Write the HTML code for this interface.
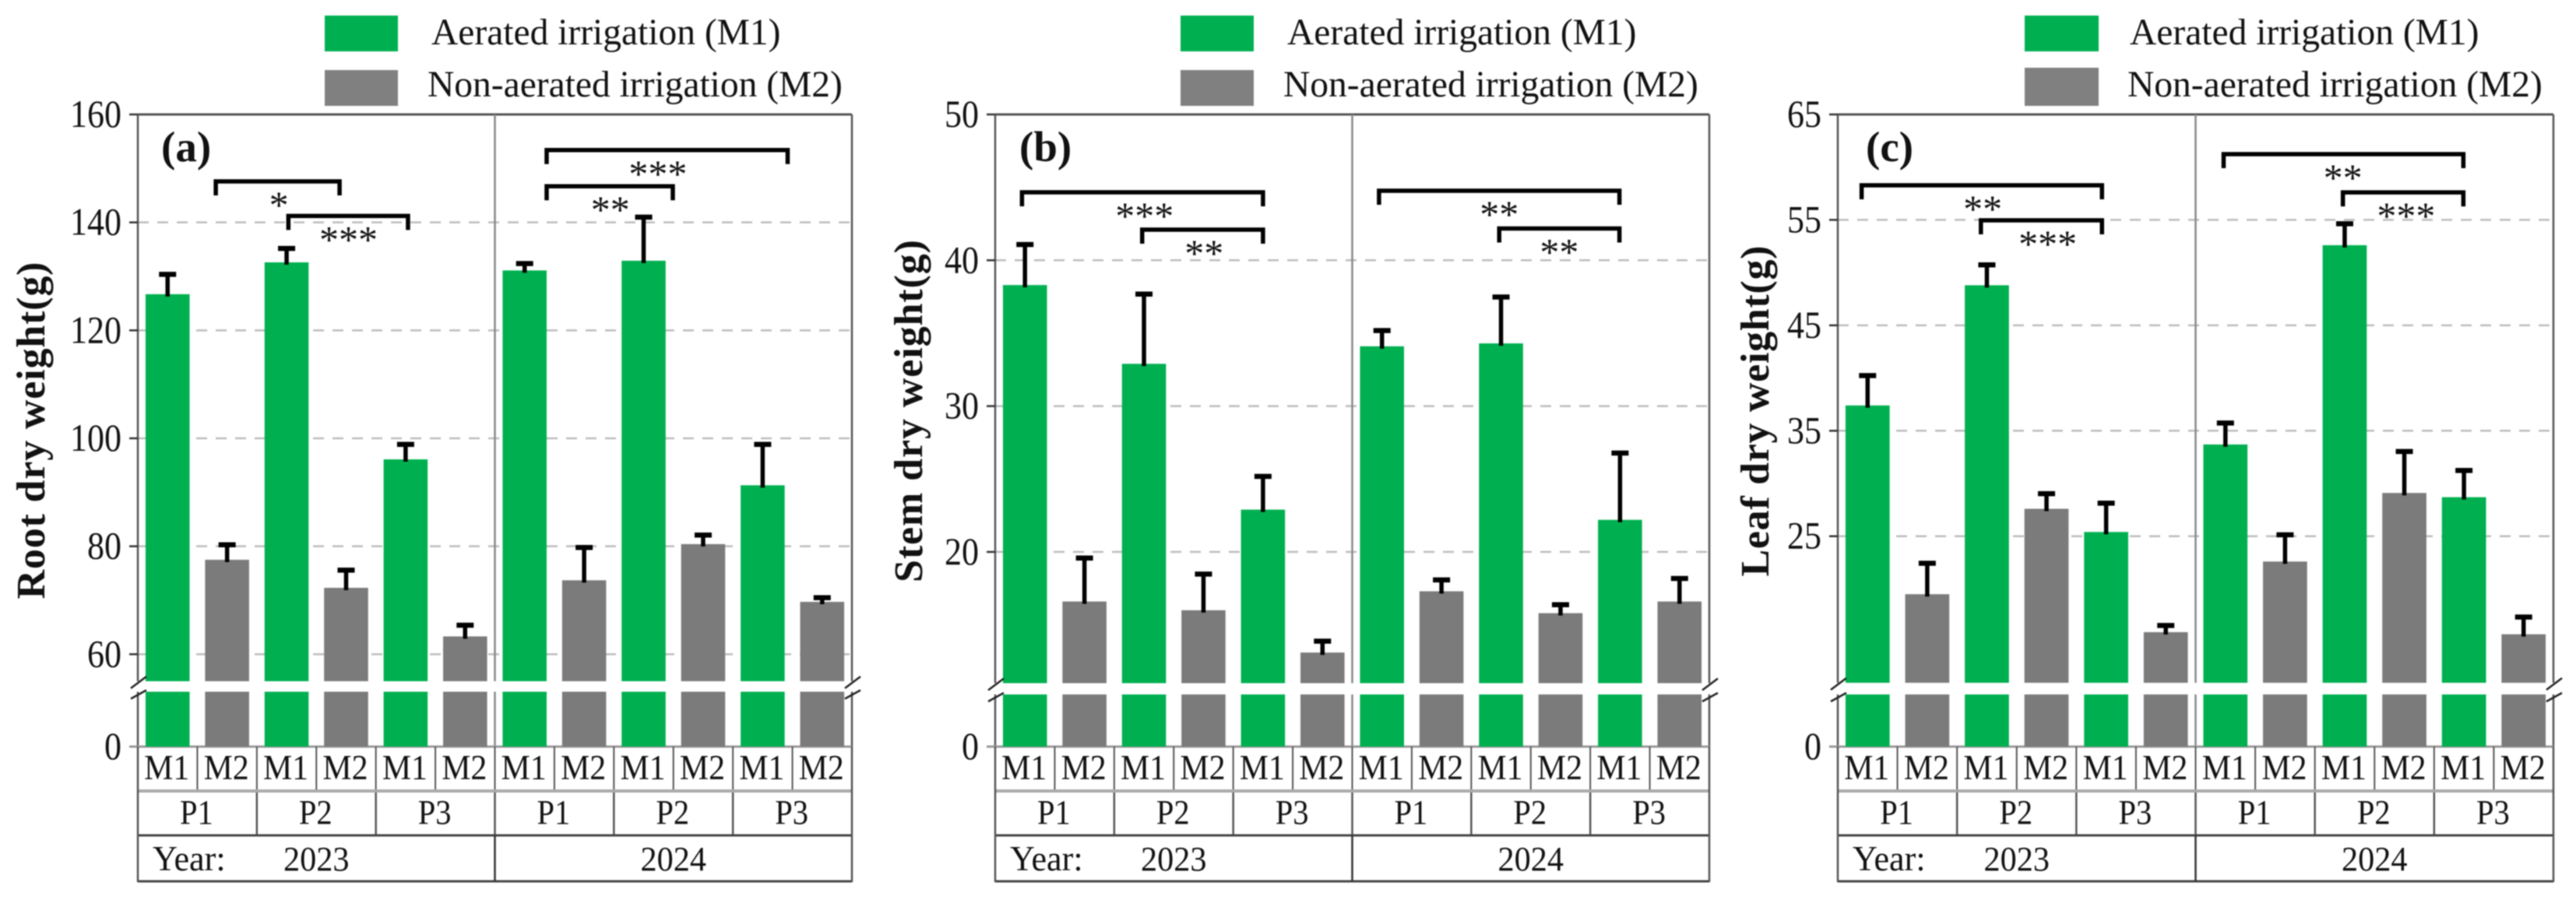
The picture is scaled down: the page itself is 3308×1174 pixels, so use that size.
<!DOCTYPE html>
<html lang="en">
<head>
<meta charset="utf-8">
<title>Root, stem and leaf dry weight</title>
<style>
html,body{margin:0;padding:0;background:#fff;width:3308px;height:1174px;overflow:hidden}
svg{display:block;filter:blur(0.7px)}
text{font-family:"Liberation Serif","Times New Roman",serif;fill:#111}
</style>
</head>
<body>
<svg id="chart" xmlns="http://www.w3.org/2000/svg" width="3308" height="1174" viewBox="0 0 3308 1174">
  <rect x="0" y="0" width="3308" height="1174" fill="#fff"/>
  <g>
    <rect x="417" y="20" width="94" height="46" fill="#00B050"/>
    <text x="554" y="57" font-size="47.5">Aerated irrigation (M1)</text>
    <rect x="417" y="90" width="94" height="46" fill="#808080"/>
    <text x="549" y="124" font-size="47.5">Non-aerated irrigation (M2)</text>
  </g>
  <g>
    <rect x="1516" y="20" width="94" height="46" fill="#00B050"/>
    <text x="1653" y="57" font-size="47.5">Aerated irrigation (M1)</text>
    <rect x="1516" y="90" width="94" height="46" fill="#808080"/>
    <text x="1648" y="124" font-size="47.5">Non-aerated irrigation (M2)</text>
  </g>
  <g>
    <rect x="2600" y="20" width="95" height="46" fill="#00B050"/>
    <text x="2735" y="57" font-size="47.5">Aerated irrigation (M1)</text>
    <rect x="2600" y="87" width="95" height="49" fill="#808080"/>
    <text x="2732" y="124" font-size="47.5">Non-aerated irrigation (M2)</text>
  </g>
</svg>
<script>
// Categories
var treatments = ['M1','M2','M1','M2','M1','M2','M1','M2','M1','M2','M1','M2'];
var periods = ['P1','P2','P3','P1','P2','P3'];
var years = ['2023','2024'];

// Root dry weight (g)
var rootMeans = [126.7,77.5,132.6,72.3,96.1,63.3,131.1,73.7,132.9,80.4,91.3,69.7];
var rootErrors = [4.0,3.1,2.9,3.6,3.1,2.4,1.6,6.4,8.4,2.0,7.9,1.1];
var rootTicks = [60,80,100,120,140,160];

// Stem dry weight (g)
var stemMeans = [38.3,16.6,32.9,16.0,22.9,13.1,34.1,17.3,34.3,15.8,22.2,16.6];
var stemErrors = [2.9,3.1,4.9,2.6,2.4,0.9,1.2,0.9,3.3,0.7,4.7,1.7];
var stemTicks = [20,30,40,50];

// Leaf dry weight (g)
var leafMeans = [37.4,19.5,48.8,27.6,25.4,15.9,33.7,22.6,52.6,29.1,28.7,15.7];
var leafErrors = [3.0,3.1,2.1,1.6,2.9,0.8,2.2,2.7,2.2,4.1,2.7,1.8];
var leafTicks = [25,35,45,55,65];

// Significance brackets: start and end along the category axis, level on the y axis, stars
var rootBracketFrom = [1.31,2.53,6.87,6.87];
var rootBracketTo = [3.39,4.54,10.92,8.99];
var rootBracketLevel = [147.6,141.2,153.4,146.7];
var rootBracketStarAt = [2.37,3.54,8.74,7.94];
var rootBracketStars = ['*','***','***','**'];

var stemBracketFrom = [0.45,2.47,6.45,8.47];
var stemBracketTo = [4.50,4.50,10.49,10.49];
var stemBracketLevel = [44.66,42.1,44.77,42.18];
var stemBracketStarAt = [2.51,3.51,8.47,9.48];
var stemBracketStars = ['***','**','**','**'];

var leafBracketFrom = [0.40,2.40,6.47,8.47];
var leafBracketTo = [4.43,4.43,10.49,10.49];
var leafBracketLevel = [58.28,54.96,61.23,57.61];
var leafBracketStarAt = [2.43,3.52,8.47,9.53];
var leafBracketStars = ['**','***','**','***'];

var panels = [
  {key:'root',label:'(a)',title:'Root dry weight(g)',means:rootMeans,errors:rootErrors,ticks:rootTicks,
   from:rootBracketFrom,to:rootBracketTo,level:rootBracketLevel,starAt:rootBracketStarAt,stars:rootBracketStars,
   left:177,right:1094,breakValue:55,maxValue:160,upperBottom:875,lowerTop:888.5,
   titleX:57,titleMid:553,titleLen:433,labelX:207},
  {key:'stem',label:'(b)',title:'Stem dry weight(g)',means:stemMeans,errors:stemErrors,ticks:stemTicks,
   from:stemBracketFrom,to:stemBracketTo,level:stemBracketLevel,starAt:stemBracketStarAt,stars:stemBracketStars,
   left:1278,right:2195,breakValue:11,maxValue:50,upperBottom:877.5,lowerTop:892,
   titleX:1184,titleMid:528,titleLen:440,labelX:1309},
  {key:'leaf',label:'(c)',title:'Leaf dry weight(g)',means:leafMeans,errors:leafErrors,ticks:leafTicks,
   from:leafBracketFrom,to:leafBracketTo,level:leafBracketLevel,starAt:leafBracketStarAt,stars:leafBracketStars,
   left:2360,right:3279,breakValue:11.1,maxValue:65,upperBottom:877,lowerTop:892,
   titleX:2271,titleMid:528,titleLen:425,labelX:2396}
];

var TOP = 147, ZERO = 959, ROW1 = 1016, ROW2 = 1073, ROW3 = 1132;
var GREEN = '#00B050', GREY = '#7B7B7B', FRAME = '#555';
var SVGNS = 'http://www.w3.org/2000/svg';
var root = document.getElementById('chart');

function make(tag, attrs, parent) {
  var el = document.createElementNS(SVGNS, tag);
  for (var k in attrs) el.setAttribute(k, attrs[k]);
  parent.appendChild(el);
  return el;
}
function lineAttrs(x1, y1, x2, y2, color, width) {
  return {x1:x1, y1:y1, x2:x2, y2:y2, stroke:color, 'stroke-width':width};
}
function squeezedText(str, x, y, size, sx, anchor, parent) {
  var el = make('text', {transform:'translate(' + x + ',' + y + ') scale(' + sx + ',1)', 'font-size':size, 'text-anchor':anchor}, parent);
  el.textContent = str;
  return el;
}

function drawPanel(p) {
  var g = make('g', {}, root);
  
  

  var band = (p.right - p.left) / treatments.length;
  var mid = p.left + band * 6;
  function xPos(u) { return p.left + band * u; }
  function yPos(v) {
    return p.upperBottom - (v - p.breakValue) * (p.upperBottom - TOP) / (p.maxValue - p.breakValue);
  }

  // gridlines
  p.ticks.forEach(function (t) {
    if (t === p.maxValue) return;
    var grid = make('line', lineAttrs(p.left, yPos(t), p.right, yPos(t), '#bdbdbd', 2.5), g);
    grid.setAttribute('stroke-dasharray', '14 11');
    
    
  });

  // frame
  var frameSegments = [
    [p.left, TOP, p.right, TOP, 3],
    [p.left, TOP, p.left, p.upperBottom, 2.5],
    [p.left, p.lowerTop, p.left, ZERO, 2.5],
    [p.right, TOP, p.right, p.upperBottom, 2.5],
    [p.right, p.lowerTop, p.right, ZERO, 2.5]
  ];
  frameSegments.forEach(function (s) {
    var frame = make('line', lineAttrs(s[0], s[1], s[2], s[3], FRAME, s[4]), g);
    
    
  });
  [[TOP, p.upperBottom], [p.lowerTop, ZERO]].forEach(function (s) {
    var divider = make('line', lineAttrs(mid, s[0], mid, s[1], '#888', 2.5), g);
    
    
  });

  // ticks
  p.ticks.forEach(function (t) {
    var mark = make('line', lineAttrs(p.left - 11, yPos(t), p.left, yPos(t), '#333', 2.5), g);
    
    
    var label = squeezedText(String(t), p.left - 21, yPos(t) + 16, 50, 0.88, 'end', g);
    
    
  });
  var zeroMark = make('line', lineAttrs(p.left - 11, ZERO, p.right, ZERO, '#999', 3), g);
  
  
  var zeroLabel = squeezedText('0', p.left - 21, ZERO + 16, 50, 0.88, 'end', g);
  
  

  // bars and error bars
  var barWidth = band * 0.74;
  p.means.forEach(function (m, i) {
    var cx = xPos(i + 0.5);
    var fill = treatments[i] === 'M1' ? GREEN : GREY;
    var upper = make('rect', {x:cx - barWidth / 2, y:yPos(m), width:barWidth, height:p.upperBottom - yPos(m), fill:fill}, g);
    
    
    var lower = make('rect', {x:cx - barWidth / 2, y:p.lowerTop, width:barWidth, height:ZERO - p.lowerTop, fill:fill}, g);
    
    
    var topY = yPos(m + p.errors[i]);
    var stem = make('line', lineAttrs(cx, topY, cx, yPos(m) + 3, '#000', 5.5), g);
    
    
    var cap = make('rect', {x:cx - 11, y:topY - 1, width:22, height:6.5, fill:'#000'}, g);
    
    
  });

  // axis-break marks
  [p.left, p.right].forEach(function (ax) {
    var a = make('line', lineAttrs(ax - 9, p.upperBottom + 9, ax + 11, p.upperBottom - 6, '#222', 2.5), g);
    
    
    var b = make('line', lineAttrs(ax - 9, p.lowerTop + 9, ax + 11, p.lowerTop - 2, '#222', 2.5), g);
    
    
  });

  // significance brackets
  p.from.forEach(function (f, i) {
    var x1 = xPos(f), x2 = xPos(p.to[i]), y = yPos(p.level[i]);
    var br = make('path', {d:'M' + x1 + ' ' + (y + 18) + 'V' + y + 'H' + x2 + 'V' + (y + 18), fill:'none', stroke:'#000', 'stroke-width':5.5}, g);
    
    
    var star = make('text', {x:xPos(p.starAt[i]), y:y + 47, 'font-size':50, 'text-anchor':'middle'}, g);
    star.textContent = p.stars[i];
    
    
  });

  // panel letter
  var letter = make('text', {x:p.labelX, y:207, 'font-size':55, 'font-weight':'bold'}, g);
  letter.textContent = p.label;
  
  

  // y-axis title
  var title = make('text', {transform:'translate(' + p.titleX + ',' + p.titleMid + ') rotate(-90)', 'font-size':52, 'font-weight':'bold', 'text-anchor':'middle', textLength:p.titleLen, lengthAdjust:'spacing'}, g);
  title.textContent = p.title;
  
  

  // category table
  treatments.forEach(function (t, i) {
    var label = squeezedText(t, xPos(i + 0.5) - 1, 1001, 45, 0.93, 'middle', g);
    
    
    if (i > 0) {
      var sep = make('line', lineAttrs(xPos(i), ZERO, xPos(i), ROW1, '#555', 2), g);
      
      
    }
  });
  periods.forEach(function (t, i) {
    var label = squeezedText(t, xPos(i * 2 + 1) - 1, 1058, 44, 0.92, 'middle', g);
    
    
    if (i > 0) {
      var sep = make('line', lineAttrs(xPos(i * 2), ROW1, xPos(i * 2), ROW2, '#555', 2.5), g);
      
      
    }
  });
  years.forEach(function (t, i) {
    var label = squeezedText(t, xPos(i * 6 + 3), 1118, 44, 0.96, 'middle', g);
    
    
  });
  var yearHead = squeezedText('Year:', p.left + 19, 1118, 46, 0.96, 'start', g);
  
  

  var rule1 = make('line', lineAttrs(p.left, ROW1, p.right, ROW1, '#aaa', 4), g);
  
  
  var rule2 = make('line', lineAttrs(p.left, ROW2, p.right, ROW2, '#444', 3), g);
  
  
  var rule3 = make('line', lineAttrs(p.left, ROW3, p.right, ROW3, '#444', 3), g);
  
  
  var sideL = make('line', lineAttrs(p.left, ZERO, p.left, ROW3 + 1, '#555', 2.5), g);
  
  
  var sideR = make('line', lineAttrs(p.right, ZERO, p.right, ROW3 + 1, '#555', 2.5), g);
  
  
  var yearSep = make('line', lineAttrs(mid, ROW2, mid, ROW3, '#333', 2.5), g);
  
  
}

panels.forEach(drawPanel);
</script>
</body>
</html>
